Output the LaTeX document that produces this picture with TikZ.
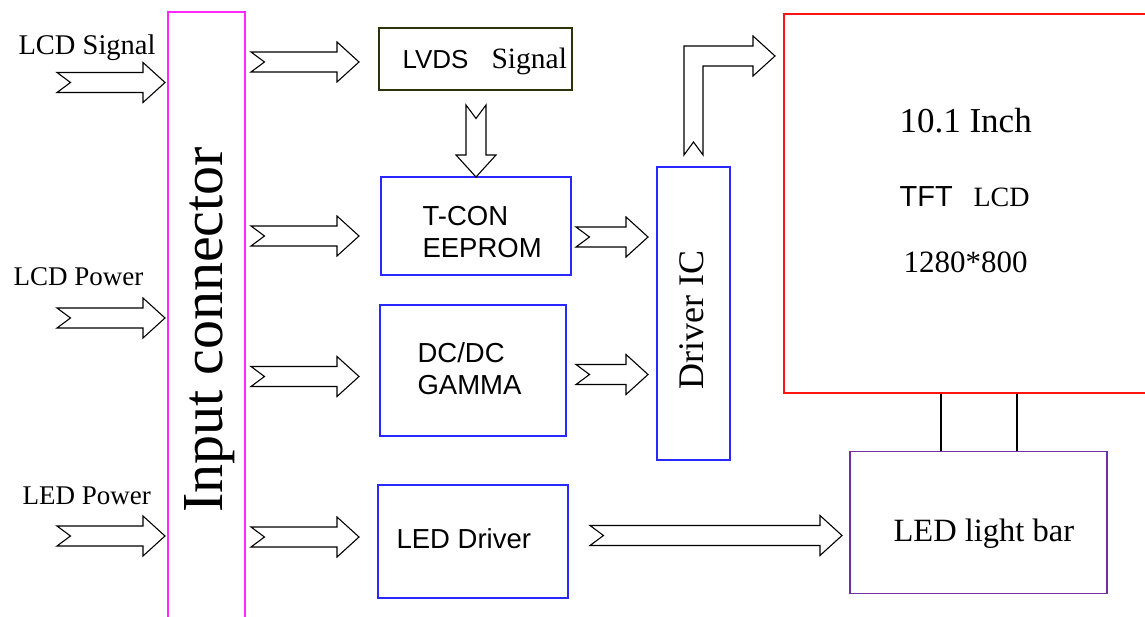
\documentclass[tikz,border=0pt]{standalone}
\usepackage{fontspec}
\setmainfont{Liberation Serif}
\newfontfamily\arialfont{Liberation Sans}

\definecolor{connpink}{RGB}{255,40,255}
\definecolor{boxblue}{RGB}{40,40,255}
\definecolor{lcdred}{RGB}{255,20,20}
\definecolor{lvdsolive}{RGB}{45,50,10}
\definecolor{barpurple}{RGB}{112,48,160}

\tikzset{
  box/.style={draw, inner sep=0pt},
  lbl/.style={anchor=base west, inner sep=0pt},
  blockarrow/.pic={
    \draw[fill=white] (0,-10) -- (#1-22,-10) -- (#1-22,-20) -- (#1,0) -- (#1-22,20) -- (#1-22,10) -- (0,10) -- (13.5,0) -- cycle;
  }
}

\begin{document}
\begin{tikzpicture}[x=1pt, y=-1pt, line width=1.1pt]

\clip (0,0) rectangle (1145,617);

% boxes
\node [box, draw=connpink, minimum width=77, minimum height=628] (conn) at (206.5,326) {};
\node [box, draw=lvdsolive, minimum width=193, minimum height=62] (lvds) at (475.5,59) {};
\node [box, draw=boxblue, minimum width=190, minimum height=98] (tcon) at (476,226) {};
\node [box, draw=boxblue, minimum width=186, minimum height=131] (dcdc) at (473,370.5) {};
\node [box, draw=boxblue, minimum width=190, minimum height=113] (leddrv) at (473,541.5) {};
\node [box, draw=boxblue, minimum width=73, minimum height=293] (drvic) at (693.5,313.5) {};
\node [box, draw=lcdred, minimum width=400, minimum height=379] (lcd) at (984,203.5) {};
\node [box, draw=barpurple, minimum width=257, minimum height=142] (bar) at (978.5,522.5) {};

% texts
\node [lbl, font=\fontsize{28.5}{32}\selectfont] (lcdsig) at (18,55) {LCD Signal};
\node [lbl, font=\fontsize{27}{32}\selectfont] (lcdpow) at (13,286) {LCD Power};
\node [lbl, font=\fontsize{27}{32}\selectfont] (ledpow) at (22,504) {LED Power};
\node [lbl, rotate=90, font=\fontsize{58}{60}\selectfont] (conntxt) at (222,513) {Input connector};
\node [lbl, font=\arialfont\fontsize{26}{32}\selectfont] (lvdstxt) at (402,69) {LVDS};
\node [lbl, font=\fontsize{29.5}{32}\selectfont] (sigtxt) at (491,69) {Signal};
\node [lbl, font=\arialfont\fontsize{27.5}{32}\selectfont] (tcontxt) at (422,226) {T-CON};
\node [lbl, font=\arialfont\fontsize{27.5}{32}\selectfont] (eeptxt) at (422,258) {EEPROM};
\node [lbl, font=\arialfont\fontsize{27.5}{32}\selectfont] (dcdctxt) at (417,362) {DC/DC};
\node [lbl, font=\arialfont\fontsize{27.5}{32}\selectfont] (gamtxt) at (417,394) {GAMMA};
\node [lbl, font=\arialfont\fontsize{27.5}{32}\selectfont] (ledtxt) at (396,548) {LED Driver};
\node [lbl, rotate=90, font=\fontsize{36}{40}\selectfont] (drvtxt) at (703,390) {Driver IC};
\node [lbl, font=\fontsize{35}{40}\selectfont] (inchtxt) at (899,133) {10.1 Inch};
\node [lbl, font=\arialfont\fontsize{29}{32}\selectfont] (tfttxt) at (899,207) {TFT};
\node [lbl, font=\fontsize{28}{32}\selectfont] (lcdtxt) at (973,207) {LCD};
\node [lbl, font=\fontsize{31}{36}\selectfont] (restxt) at (903,273) {1280*800};
\node [lbl, font=\fontsize{32.5}{36}\selectfont] (bartxt) at (893,541) {LED light bar};

% block arrows
\pic at (57,82.5) {blockarrow=108};
\pic at (57,318) {blockarrow=108};
\pic at (57,536) {blockarrow=108};
\pic at (251,62) {blockarrow=108};
\pic at (251,236) {blockarrow=108};
\pic at (251,376.5) {blockarrow=108};
\pic at (251,537) {blockarrow=108};
\pic [rotate=-90] at (476,105) {blockarrow=72};
\pic at (576,237) {blockarrow=72};
\pic at (576,374.5) {blockarrow=72};
\pic at (590,535.5) {blockarrow=252};

% bent arrow to the panel
\draw [fill=white] (684,155) -- (684,46) -- (753,46) -- (753,36) -- (775,56) -- (753,76) -- (753,66) -- (703,66) -- (703,155) -- (693.5,142) -- cycle;

% panel to light bar
\draw ([xshift=-37.5]bar.north) -- ([xshift=-37.5]bar.north |- lcd.south);
\draw ([xshift=38.5]bar.north) -- ([xshift=38.5]bar.north |- lcd.south);

\end{tikzpicture}
\end{document}
